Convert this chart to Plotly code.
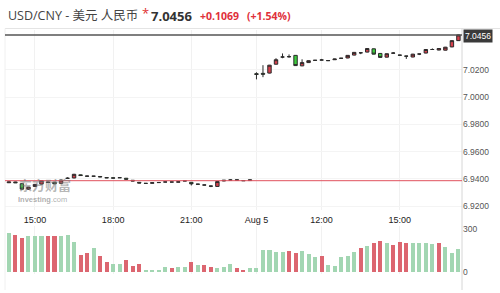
import plotly.graph_objects as go

# ---- data ----
idx = list(range(70))
opens = [6.9372, 6.9378, 6.9365, 6.9325, 6.9345, 6.9362, 6.9378, 6.9376, 6.9368, 6.9404,
         6.9407, 6.9430, 6.9421, 6.9420, 6.9418, 6.9410, 6.9408, 6.9409, 6.9405, 6.9390,
         6.9375, 6.9368, 6.9368, 6.9373, 6.9377, 6.9378, 6.9376, 6.9385, 6.9375, 6.9362,
         6.9356, 6.9348, 6.9345, 6.9385, 6.9392, 6.9391, 6.9388, 6.9388,
         7.0172, 7.0174, 7.0176, 7.0241, 7.0294, 7.0297, 7.0306, 7.0229, 7.0253, 7.0269,
         7.0272, 7.0267, 7.0274, 7.0284, 7.0287, 7.0308, 7.0325, 7.0330, 7.0354, 7.0320,
         7.0293, 7.0322, 7.0308, 7.0301, 7.0294, 7.0316, 7.0323, 7.0349, 7.0345, 7.0344,
         7.0368, 7.0414]
closes = [6.9378, 6.9372, 6.9325, 6.9340, 6.9360, 6.9388, 6.9374, 6.9364, 6.9392, 6.9405,
          6.9434, 6.9425, 6.9420, 6.9420, 6.9415, 6.9408, 6.9406, 6.9409, 6.9398, 6.9385,
          6.9370, 6.9367, 6.9372, 6.9374, 6.9378, 6.9377, 6.9379, 6.9386, 6.9364, 6.9361,
          6.9355, 6.9347, 6.9381, 6.9390, 6.9392, 6.9393, 6.9387, 6.9393,
          7.0166, 7.0168, 7.0234, 7.0274, 7.0294, 7.0296, 7.0231, 7.0253, 7.0267, 7.0270,
          7.0272, 7.0268, 7.0279, 7.0285, 7.0306, 7.0328, 7.0325, 7.0356, 7.0315, 7.0291,
          7.0318, 7.0323, 7.0307, 7.0300, 7.0315, 7.0316, 7.0349, 7.0349, 7.0356, 7.0366,
          7.0414, 7.0456]
highs = [6.9380, 6.9380, 6.9368, 6.9342, 6.9362, 6.9390, 6.9380, 6.9378, 6.9395, 6.9412,
         6.9437, 6.9432, 6.9423, 6.9422, 6.9420, 6.9412, 6.9410, 6.9413, 6.9407, 6.9392,
         6.9377, 6.9370, 6.9374, 6.9376, 6.9380, 6.9380, 6.9381, 6.9390, 6.9377, 6.9364,
         6.9358, 6.9350, 6.9383, 6.9392, 6.9397, 6.9395, 6.9390, 6.9395,
         7.0182, 7.0234, 7.0236, 7.0285, 7.0320, 7.0313, 7.0308, 7.0277, 7.0269, 7.0272,
         7.0280, 7.0270, 7.0281, 7.0287, 7.0308, 7.0330, 7.0328, 7.0358, 7.0356, 7.0322,
         7.0320, 7.0330, 7.0310, 7.0303, 7.0317, 7.0318, 7.0351, 7.0357, 7.0358, 7.0368,
         7.0416, 7.0458]
lows = [6.9370, 6.9370, 6.9318, 6.9320, 6.9343, 6.9360, 6.9372, 6.9362, 6.9366, 6.9400,
        6.9405, 6.9423, 6.9418, 6.9418, 6.9413, 6.9406, 6.9404, 6.9407, 6.9396, 6.9383,
        6.9368, 6.9365, 6.9366, 6.9371, 6.9375, 6.9375, 6.9374, 6.9384, 6.9352, 6.9359,
        6.9353, 6.9340, 6.9343, 6.9383, 6.9390, 6.9389, 6.9385, 6.9386,
        7.0130, 7.0146, 7.0174, 7.0240, 7.0285, 7.0289, 7.0229, 7.0227, 7.0251, 7.0267,
        7.0270, 7.0265, 7.0272, 7.0282, 7.0285, 7.0306, 7.0315, 7.0328, 7.0313, 7.0289,
        7.0291, 7.0320, 7.0305, 7.0280, 7.0292, 7.0308, 7.0321, 7.0347, 7.0343, 7.0342,
        7.0366, 7.0412]
volumes = [273, 259, 239, 248, 250, 250, 248, 248, 250, 261,
           207, 120, 130, 170, 109, 70, 55, 59, 82, 41,
           59, 14, 14, 18, 39, 27, 39, 36, 70, 52,
           52, 36, 32, 34, 59, 27, 14, 32,
           30, 155, 155, 143, 143, 150, 136, 150, 127, 102,
           109, 52, 41, 105, 114, 139, 170, 184, 205, 216,
           200, 189, 211, 200, 205, 205, 205, 195, 205, 173,
           136, 161]
vol_up = ["g", "r", "r", "g", "g", "g", "r", "r", "g", "g",
          "g", "r", "r", "g", "r", "r", "g", "g", "r", "r",
          "r", "g", "g", "g", "g", "r", "g", "g", "r", "g",
          "r", "r", "g", "g", "g", "r", "r", "g",
          "g", "g", "g", "g", "g", "r", "r", "g", "g", "g",
          "r", "g", "g", "g", "g", "g", "r", "g", "r", "r",
          "g", "r", "r", "r", "g", "g", "g", "g", "r", "g",
          "g", "g"]
tick_pos = [4, 16, 28, 38, 48, 60]
tick_text = ["15:00", "18:00", "21:00", "Aug 5", "12:00", "15:00"]
price_ticks = [6.92, 6.94, 6.96, 6.98, 7.00, 7.02]
last_price = 7.0456
prev_close = 6.9387

W, H = 500, 293
def px(x): return x / W
def py(y): return 1 - y / H

# pixel geometry: price 7.02 at y=69, 0.02 per 27.75 px
def price_at(y): return 7.02 + (69 - y) * (0.02 / 27.75)
P_TOP, P_BOT = 28, 212
V_TOP, V_BOT = 228, 277
def vol_at(y): return (275 - y) * (300 / 44)

fig = go.Figure()
fig.add_trace(go.Candlestick(
    x=idx, open=opens, high=highs, low=lows, close=closes,
    increasing=dict(fillcolor="#d6404c", line=dict(color="#2b2b2b", width=1)),
    decreasing=dict(fillcolor="#3ccc3c", line=dict(color="#2b2b2b", width=1)),
    whiskerwidth=0, xaxis="x", yaxis="y", hoverinfo="skip",
))
fig.add_trace(go.Bar(
    x=idx, y=volumes, width=0.62,
    marker=dict(color=["#dc6670" if c == "r" else "#a2d6b2" for c in vol_up], line=dict(width=0)),
    xaxis="x", yaxis="y2", hoverinfo="skip",
))

x0 = -0.6
x1 = 69.55
fig.update_layout(
    width=W, height=H, margin=dict(l=0, r=0, t=0, b=0),
    paper_bgcolor="white", plot_bgcolor="white", showlegend=False,
    font=dict(family="Liberation Sans, Arial, sans-serif", size=9, color="#333"),
    xaxis=dict(domain=[px(5), px(462)], range=[x0, x1], anchor="y",
               tickvals=tick_pos, ticktext=tick_text, showgrid=True, gridcolor="#f1f1f1",
               zeroline=False, showline=False, ticks="", rangeslider=dict(visible=False),
               tickfont=dict(size=9, color="#222"), ticklabelstandoff=3),
    yaxis=dict(domain=[py(P_BOT), py(P_TOP)], range=[price_at(P_BOT), price_at(P_TOP)],
               side="right", tickvals=price_ticks, ticktext=[f"{v:.4f}" for v in price_ticks],
               showgrid=True, gridcolor="#f4f4f4", zeroline=False, showline=False, ticks="",
               tickfont=dict(size=8.5, color="#555")),
    yaxis2=dict(domain=[py(V_BOT), py(V_TOP)], range=[vol_at(V_BOT), vol_at(V_TOP)],
                side="right", anchor="x", tickvals=[0, 300], ticktext=["0", "300"],
                showgrid=False, zeroline=False, showline=False, ticks="",
                tickfont=dict(size=8.5, color="#555")),
    bargap=0, boxgap=0.25,
)

shapes = [
    dict(type="line", xref="paper", yref="paper", x0=px(5), x1=1, y0=py(27), y1=py(27),
         line=dict(color="#e4e4e4", width=1)),
    dict(type="line", xref="paper", yref="paper", x0=px(462), x1=px(462), y0=py(27), y1=0,
         line=dict(color="#d6d6d6", width=1)),
    dict(type="line", xref="paper", yref="paper", x0=px(5), x1=px(5), y0=py(27), y1=0,
         line=dict(color="#f0f0f0", width=1)),
    dict(type="line", xref="x", yref="y", x0=x0, x1=x1, y0=last_price, y1=last_price,
         line=dict(color="#555555", width=1.5)),
    dict(type="line", xref="x", yref="y", x0=x0, x1=x1, y0=prev_close, y1=prev_close,
         line=dict(color="#e0525e", width=1)),
]
fig.update_layout(shapes=shapes)

ann = [
    dict(text="USD/CNY - 美元 人民币", x=px(6), y=py(14), xanchor="left", yanchor="middle",
         font=dict(family="Open Sans, Noto Sans CJK SC", size=12.5, color="#444")),
    dict(text="*", x=px(140), y=py(11), xanchor="left", yanchor="middle",
         font=dict(family="Open Sans", size=13, color="#e03030")),
    dict(text="<b>7.0456</b>", x=px(149), y=py(14), xanchor="left", yanchor="middle",
         font=dict(family="Open Sans", size=13, color="#333")),
    dict(text="<b>+0.1069</b>", x=px(198), y=py(14), xanchor="left", yanchor="middle",
         font=dict(family="Open Sans", size=10.5, color="#e0303a")),
    dict(text="<b>(+1.54%)</b>", x=px(245), y=py(14), xanchor="left", yanchor="middle",
         font=dict(family="Open Sans", size=10.5, color="#e0303a")),
    dict(text="7.0456", x=px(463), y=py(34.5), xanchor="left", yanchor="middle",
         font=dict(family="Liberation Sans", size=8.5, color="white"),
         bgcolor="#3a3a3a", borderpad=1),
    dict(text="<b>东方财富</b>", x=px(17), y=py(186), xanchor="left", yanchor="middle",
         font=dict(family="Noto Sans CJK SC", size=13, color="rgba(120,120,120,0.55)")),
    dict(text="<b>Investing</b>.com", x=px(16), y=py(201), xanchor="left", yanchor="middle",
         font=dict(family="Liberation Sans", size=7.5, color="rgba(120,120,120,0.6)")),
]
for a in ann:
    a.update(xref="paper", yref="paper", showarrow=False)
fig.update_layout(annotations=ann)

fig.write_html("out.html")
